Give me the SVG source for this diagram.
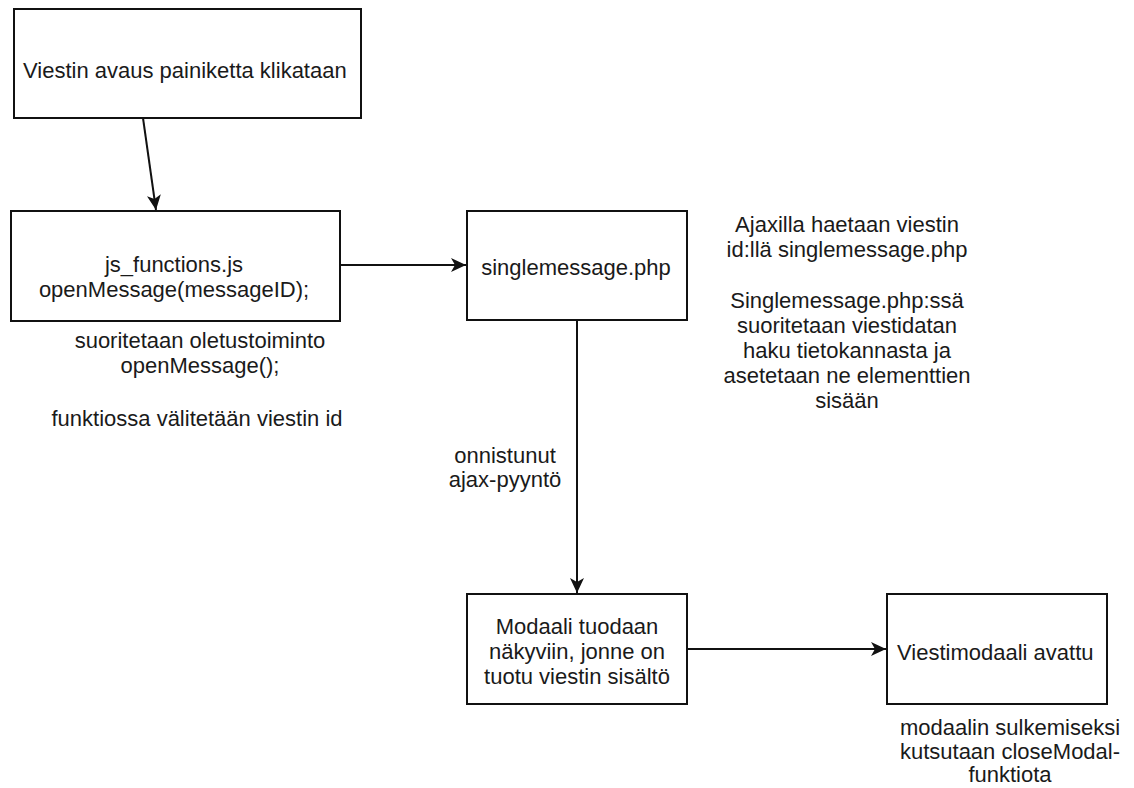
<svg xmlns="http://www.w3.org/2000/svg" width="1134" height="788" viewBox="0 0 1134 788">
<style>
.box{fill:#fff;stroke:#111;stroke-width:2}
.t{font-family:"Liberation Sans",Arial,sans-serif;font-size:22px;fill:#1a1a1a}
.c{text-anchor:middle}
.edge{fill:none;stroke:#111;stroke-width:2}
</style>
<defs>
<marker id="arr" markerUnits="userSpaceOnUse" markerWidth="16" markerHeight="14" refX="15" refY="7" orient="auto">
<path d="M0,0 L15,7 L0,14 L4,7 Z" fill="#111"/>
</marker>
</defs>
<rect width="1134" height="788" fill="#fff"/>
<g id="connectors">
<line class="edge" x1="143" y1="118" x2="156" y2="210" marker-end="url(#arr)"/>
<line class="edge" x1="340" y1="265" x2="466" y2="265" marker-end="url(#arr)"/>
<line class="edge" x1="577" y1="320" x2="577" y2="593" marker-end="url(#arr)"/>
<line class="edge" x1="687" y1="649" x2="886" y2="649" marker-end="url(#arr)"/>
</g>
<g id="node-click">
<rect class="box" x="14" y="9" width="347" height="109"/>
<text class="t" x="23" y="78">Viestin avaus painiketta klikataan</text>
</g>
<g id="node-js">
<rect class="box" x="11" y="211" width="329" height="110"/>
<text class="t c" x="174" y="272">js_functions.js</text>
<text class="t c" x="174" y="297">openMessage(messageID);</text>
</g>
<g id="node-single">
<rect class="box" x="467" y="211" width="220" height="109"/>
<text class="t c" x="576" y="275">singlemessage.php</text>
</g>
<g id="node-modal">
<rect class="box" x="467" y="594" width="220" height="110"/>
<text class="t c" x="577" y="634">Modaali tuodaan</text>
<text class="t c" x="577" y="659">näkyviin, jonne on</text>
<text class="t c" x="577" y="684">tuotu viestin sisältö</text>
</g>
<g id="node-opened">
<rect class="box" x="887" y="594" width="220" height="110"/>
<text class="t" x="897" y="660">Viestimodaali avattu</text>
</g>
<g id="label-js">
<text class="t c" x="200" y="348">suoritetaan oletustoiminto</text>
<text class="t c" x="200" y="373">openMessage();</text>
<text class="t c" x="197" y="426">funktiossa välitetään viestin id</text>
</g>
<g id="label-ajax">
<text class="t c" x="847" y="232">Ajaxilla haetaan viestin</text>
<text class="t c" x="847" y="257">id:llä singlemessage.php</text>
<text class="t c" x="847" y="308">Singlemessage.php:ssä</text>
<text class="t c" x="847" y="333">suoritetaan viestidatan</text>
<text class="t c" x="847" y="358">haku tietokannasta ja</text>
<text class="t c" x="847" y="383">asetetaan ne elementtien</text>
<text class="t c" x="847" y="408">sisään</text>
</g>
<g id="label-success">
<text class="t c" x="505" y="463">onnistunut</text>
<text class="t c" x="505" y="487">ajax-pyyntö</text>
</g>
<g id="label-close">
<text class="t c" x="1010" y="735">modaalin sulkemiseksi</text>
<text class="t c" x="1010" y="759">kutsutaan closeModal-</text>
<text class="t c" x="1010" y="782">funktiota</text>
</g>
</svg>
